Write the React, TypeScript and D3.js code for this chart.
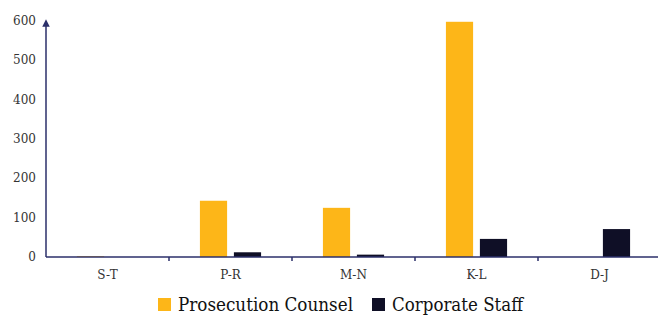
import { useEffect, useRef } from 'react';
import * as d3 from 'd3';

const categories = ['S-T', 'P-R', 'M-N', 'K-L', 'D-J'];
const prosecution = [2, 143, 125, 598, 0];
const corporate = [0, 12, 6, 46, 71];
const seriesNames = ['Prosecution Counsel', 'Corporate Staff'];
const yTicks = [0, 100, 200, 300, 400, 500, 600];

const colors = ['#fdb618', '#0f0f26'];
const axisColor = '#2b2f6a';
const font = 'DejaVu Serif, Liberation Serif, serif';

const App = () => {
  const ref = useRef<SVGSVGElement | null>(null);

  useEffect(() => {
    const W = 658;
    const H = 315;
    const margin = { top: 21, right: 0, bottom: 58, left: 46 };

    const svg = d3.select(ref.current);
    svg.selectAll('*').remove();

    const x = d3.scaleBand<string>()
      .domain(categories)
      .range([margin.left, margin.left + 123 * categories.length])
      .paddingInner(0)
      .paddingOuter(0);

    const y = d3.scaleLinear()
      .domain([0, 600])
      .range([H - margin.bottom, margin.top]);

    const inner = d3.scaleBand<number>()
      .domain([0, 1])
      .range([0, x.bandwidth()])
      .paddingInner(0.2)
      .paddingOuter(0.91);

    // 柱子
    const rows = categories.map((c, i) => ({ c, vals: [prosecution[i], corporate[i]] }));
    const g = svg.append('g');
    rows.forEach(r => {
      r.vals.forEach((v, k) => {
        if (v <= 0) return;
        g.append('rect')
          .attr('x', (x(r.c) as number) + (inner(k) as number))
          .attr('y', y(v))
          .attr('width', inner.bandwidth())
          .attr('height', y(0) - y(v))
          .attr('fill', colors[k]);
      });
    });

    // X 轴
    svg.append('line')
      .attr('x1', margin.left).attr('x2', W)
      .attr('y1', y(0)).attr('y2', y(0))
      .attr('stroke', axisColor).attr('stroke-width', 1.5);

    categories.slice(1).forEach(c => {
      svg.append('line')
        .attr('x1', x(c) as number).attr('x2', x(c) as number)
        .attr('y1', y(0)).attr('y2', y(0) + 4)
        .attr('stroke', axisColor).attr('stroke-width', 1.5);
    });

    svg.append('g')
      .selectAll('text')
      .data(categories)
      .join('text')
      .attr('x', d => (x(d) as number) + x.bandwidth() / 2)
      .attr('y', y(0) + 22)
      .attr('text-anchor', 'middle')
      .attr('font-family', font)
      .attr('font-size', 12)
      .attr('fill', '#333')
      .text(d => d);

    // Y 轴 + 箭头
    svg.append('defs').append('marker')
      .attr('id', 'arrow')
      .attr('viewBox', '0 0 10 10')
      .attr('refX', 5).attr('refY', 5)
      .attr('markerWidth', 5).attr('markerHeight', 5)
      .attr('orient', 'auto')
      .append('path')
      .attr('d', 'M0,0L10,5L0,10z')
      .attr('fill', axisColor);

    svg.append('line')
      .attr('x1', margin.left).attr('x2', margin.left)
      .attr('y1', y(0)).attr('y2', y(600) + 2)
      .attr('stroke', axisColor).attr('stroke-width', 1.5)
      .attr('marker-end', 'url(#arrow)');

    svg.append('g')
      .selectAll('text')
      .data(yTicks)
      .join('text')
      .attr('x', margin.left - 10)
      .attr('y', d => y(d) + 4)
      .attr('text-anchor', 'end')
      .attr('font-family', font)
      .attr('font-size', 12)
      .attr('fill', '#333')
      .text(d => d);

    // 图例
    const legendX = [158, 372];
    const legendLen = [175, 131];
    const leg = svg.append('g');
    seriesNames.forEach((name, k) => {
      leg.append('rect')
        .attr('x', legendX[k]).attr('y', 298)
        .attr('width', 13).attr('height', 13)
        .attr('fill', colors[k]);
      leg.append('text')
        .attr('x', legendX[k] + 20).attr('y', 311)
        .attr('font-family', font)
        .attr('font-size', 18)
        .attr('textLength', legendLen[k])
        .attr('lengthAdjust', 'spacingAndGlyphs')
        .attr('fill', '#111')
        .text(name);
    });
  }, []);

  return (
    <svg
      ref={ref}
      width={658}
      height={315}
      style={{ position: 'absolute', left: 0, top: 0, background: '#fff' }}
    />
  );
};

export default App;
